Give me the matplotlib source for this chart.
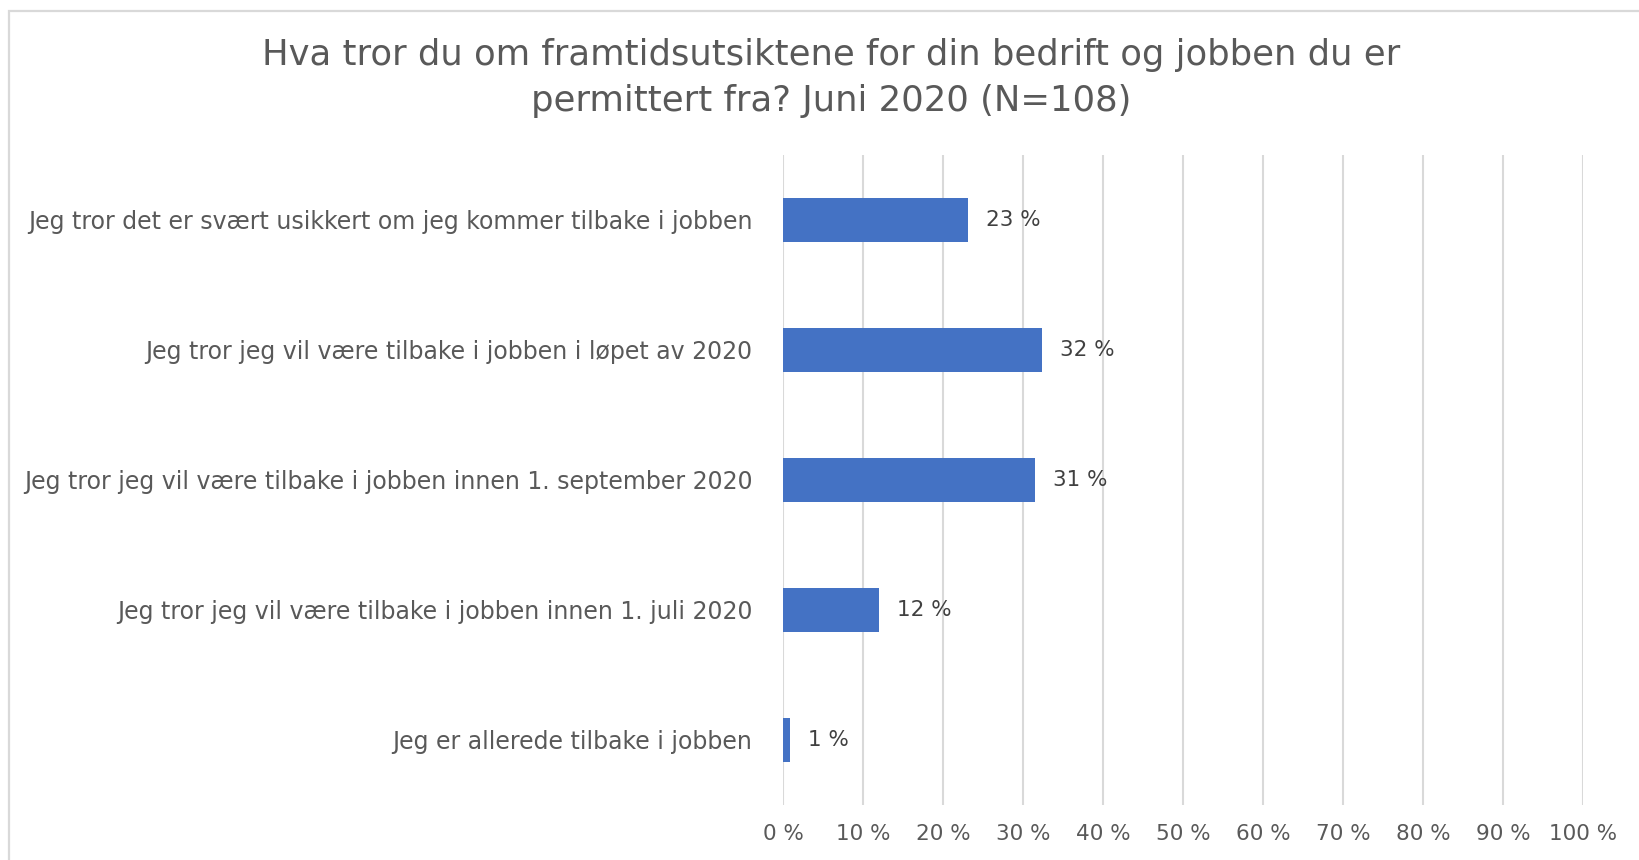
import matplotlib
matplotlib.use("Agg")
import matplotlib.pyplot as plt
from matplotlib.patches import Rectangle

# data (top to bottom)
categories = [
    "Jeg tror det er svært usikkert om jeg kommer tilbake i jobben",
    "Jeg tror jeg vil være tilbake i jobben i løpet av 2020",
    "Jeg tror jeg vil være tilbake i jobben innen 1. september 2020",
    "Jeg tror jeg vil være tilbake i jobben innen 1. juli 2020",
    "Jeg er allerede tilbake i jobben",
]
shares = [0.231, 0.324, 0.315, 0.120, 0.009]
value_labels = ["23 %", "32 %", "31 %", "12 %", "1 %"]
x_ticks = [0.0, 0.1, 0.2, 0.3, 0.4, 0.5, 0.6, 0.7, 0.8, 0.9, 1.0]
x_tick_labels = ["0 %", "10 %", "20 %", "30 %", "40 %", "50 %", "60 %", "70 %", "80 %", "90 %", "100 %"]
title_lines = [
    "Hva tror du om framtidsutsiktene for din bedrift og jobben du er",
    "permittert fra? Juni 2020 (N=108)",
]


def main():
    font = "DejaVu Sans"

    fig = plt.figure(figsize=(16.39, 8.6), dpi=100)
    ax = fig.add_axes([0.4777, 0.064, 0.4881, 0.756])

    ypos = list(range(len(categories)))
    ax.barh(ypos, shares, height=0.34, color="#4472c4", zorder=3)

    for y, v, lab in zip(ypos, shares, value_labels):
        ax.annotate(lab, (v, y), xytext=(13, 0), textcoords="offset points",
                    va="center", ha="left", fontsize=15.5, color="#404040",
                    family=font)

    ax.set_xlim(0, 1)
    ax.set_ylim(len(categories) - 0.5, -0.5)
    ax.set_xticks(x_ticks)
    ax.set_xticklabels(x_tick_labels, family=font, fontsize=15.5, color="#595959")
    ax.set_yticks(ypos)
    ax.set_yticklabels(categories, family=font, fontsize=17, color="#595959")
    ax.tick_params(axis="both", length=0)
    ax.tick_params(axis="y", pad=22)
    ax.tick_params(axis="x", pad=14)
    ax.grid(axis="x", color="#d9d9d9", linewidth=1.5, zorder=0)
    for s in ax.spines.values():
        s.set_visible(False)

    # two-line title, centred over the chart area
    fig.text(0.507, 1 - 55 / 860, title_lines[0], ha="center", va="center",
             fontsize=25.5, color="#595959", family=font)
    fig.text(0.507, 1 - 101 / 860, title_lines[1], ha="center", va="center",
             fontsize=25.5, color="#595959", family=font)

    # chart frame
    fig.patches.append(Rectangle((0.0055, -0.05), 1.1, 1.037, transform=fig.transFigure,
                                 fill=False, edgecolor="#d9d9d9", linewidth=1.6))

    fig.savefig("out.png", dpi=100)


if __name__ == "__main__":
    main()
